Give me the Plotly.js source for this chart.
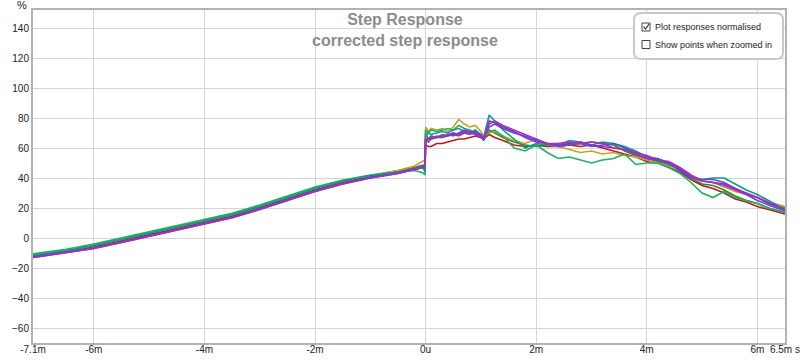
<!DOCTYPE html>
<html>
<head>
<meta charset="utf-8">
<script src="https://cdn.plot.ly/plotly-3.0.1.min.js"></script>
<style>html,body{margin:0;padding:0;background:#fff;}#chart{width:800px;height:361px;}</style>
</head>
<body>
<div id="chart"></div>
<script>
// time in ms
const timePre  = [-7.1, -6.5, -6, -5.5, -5, -4.5, -4, -3.5, -3, -2.5, -2, -1.5, -1, -0.5, -0.2, -0.05, -0.01];
const timePost = [0, 0.05, 0.1, 0.2, 0.3, 0.4, 0.5, 0.6, 0.7, 0.8, 0.9, 1.0, 1.05, 1.15, 1.25, 1.4, 1.6, 1.8, 2.0, 2.2, 2.4, 2.6, 2.8, 3.0, 3.2, 3.4, 3.6, 3.8, 4.0, 4.2, 4.4, 4.6, 4.8, 5.0, 5.2, 5.4, 5.6, 5.8, 6.0, 6.2, 6.4, 6.5];

const redPre  = [-12.5, -9.5, -6, -2, 2, 6, 10, 14.5, 20, 26, 32, 37, 41, 44, 46, 47.5, 48];
const redPost = [62, 61, 61, 63, 63, 64, 65, 66, 66, 67, 68, 67, 66, 69, 67, 65, 62, 61, 62, 61, 61, 62, 61, 62, 60, 58, 56, 54, 51, 50, 47, 44, 39, 35, 33, 30, 26, 24, 21, 19, 17, 16];

const darkGreenPre  = [-11.5, -8.5, -5, -1, 3, 7, 11, 15.5, 21, 27, 33, 38, 41.5, 44.5, 47, 48.5, 46];
const darkGreenPost = [70, 66, 68, 67, 69, 68, 70, 69, 70, 71, 70, 68, 65, 72, 70, 67, 64, 62, 61, 62, 63, 62, 63, 64, 63, 62, 58, 55, 53, 51, 49, 45, 40, 36, 35, 32, 28, 25, 23, 20, 18, 17];

const goldPre  = [-11, -8, -4.5, -0.5, 3.5, 7.5, 11.5, 16, 21.5, 27.5, 33.5, 38.5, 42, 45, 48, 51, 52];
const goldPost = [74, 71, 73, 72, 73, 71, 74, 79, 76, 74, 75, 71, 68, 70, 71, 68, 65, 63, 66, 62, 61, 59, 57, 58, 56, 57, 55, 54, 52, 50, 48, 46, 40, 38, 37, 34, 31, 29, 27, 24, 22, 21];

const brightGreenPre  = [-10.5, -7.5, -4, 0, 4, 8, 12, 16.5, 22, 28, 34, 38.5, 42, 44, 45, 43.5, 42];
const brightGreenPost = [72, 70, 72, 71, 72, 73, 72, 75, 73, 72, 70, 68, 66, 71, 72, 68, 60, 58, 62, 57, 53, 54, 52, 50, 52, 53, 56, 49, 50, 50, 47, 43, 37, 30, 27, 31, 27, 25, 23, 20, 18, 17];

const tealPre  = [-11.5, -8.5, -5, -1, 3, 7, 11, 15.5, 21, 27, 33, 38, 41.5, 44, 46, 47, 44];
const tealPost = [68, 70, 69, 70, 71, 70, 72, 73, 71, 70, 72, 69, 67, 82, 78, 72, 66, 60, 63, 62, 62, 65, 64, 62, 64, 63, 61, 58, 54, 52, 49, 46, 41, 39, 40, 40, 36, 32, 29, 25, 21, 20];

const bluePre  = [-12.5, -9.5, -6.5, -2.5, 1.5, 5.5, 9.5, 14, 19.5, 25.5, 31.5, 36.5, 40.5, 43.5, 46, 47.5, 48];
const bluePost = [64, 66, 66, 67, 67, 68, 69, 68, 70, 69, 71, 68, 66, 74, 76, 73, 70, 68, 65, 63, 61, 62, 63, 61, 62, 63, 60, 57, 54, 53, 50, 45, 40, 39, 39, 37, 33, 29, 25, 22, 19, 18];

const violetPre  = [-13, -10, -7, -3, 1, 5, 9, 13.5, 19, 25, 31, 36, 40, 43, 45.5, 47, 49];
const violetPost = [65, 66, 67, 67, 68, 69, 68, 70, 72, 71, 70, 69, 66, 78, 77, 74, 71, 67, 64, 63, 62, 63, 64, 62, 61, 60, 59, 56, 53, 52, 50, 46, 41, 38, 37, 36, 33, 30, 27, 23, 20, 19];

const purplePre  = [-13, -10, -7, -3, 1, 5, 9, 13.5, 19, 25, 31, 36, 40, 43, 45.5, 47, 50];
const purplePost = [66, 64, 66, 68, 67, 69, 70, 69, 71, 70, 69, 67, 66, 76, 78, 75, 72, 69, 66, 63, 63, 64, 63, 64, 63, 60, 59, 57, 55, 52, 51, 47, 42, 38, 37, 35, 32, 29, 27, 24, 21, 19];

const xTickVals = [-7.1, -6, -4, -2, 0, 2, 4, 6, 6.499];
const xTickText = ['-7.1m', '-6m', '-4m', '-2m', '0u', '2m', '4m', '6m', '6.5m s'];

const series = [
  {pre: redPre, post: redPost, color: '#c01a14'},
  {pre: darkGreenPre, post: darkGreenPost, color: '#2f8a2c'},
  {pre: goldPre, post: goldPost, color: '#c9a027'},
  {pre: brightGreenPre, post: brightGreenPost, color: '#1fb060'},
  {pre: tealPre, post: tealPost, color: '#16968e'},
  {pre: bluePre, post: bluePost, color: '#5552c8'},
  {pre: violetPre, post: violetPost, color: '#8a2ce0'},
  {pre: purplePre, post: purplePost, color: '#a032b8'}
];

const timeAll = timePre.concat(timePost);
const traces = series.map(s => ({
  type: 'scatter', mode: 'lines',
  x: timeAll, y: s.pre.concat(s.post),
  line: {color: s.color, width: 1.6},
  hoverinfo: 'skip'
}));

// pixel helpers for decorations
const L = 33, R = 785, T = 10, B = 343;
const px = x => (x - L) / (R - L);
const py = y => (B - y) / (B - T);
function rr(x0, y0, x1, y1, r) {
  return 'M' + px(x0 + r) + ',' + py(y0) +
    ' L' + px(x1 - r) + ',' + py(y0) +
    ' Q' + px(x1) + ',' + py(y0) + ' ' + px(x1) + ',' + py(y0 + r) +
    ' L' + px(x1) + ',' + py(y1 - r) +
    ' Q' + px(x1) + ',' + py(y1) + ' ' + px(x1 - r) + ',' + py(y1) +
    ' L' + px(x0 + r) + ',' + py(y1) +
    ' Q' + px(x0) + ',' + py(y1) + ' ' + px(x0) + ',' + py(y1 - r) +
    ' L' + px(x0) + ',' + py(y0 + r) +
    ' Q' + px(x0) + ',' + py(y0) + ' ' + px(x0 + r) + ',' + py(y0) + ' Z';
}

const font = '"Liberation Sans", Arial, sans-serif';

const layout = {
  width: 800, height: 361,
  margin: {l: 33, r: 15, t: 10, b: 18, pad: 0},
  paper_bgcolor: '#ffffff', plot_bgcolor: '#ffffff',
  showlegend: false,
  font: {family: font, size: 10, color: '#222'},
  xaxis: {
    range: [-7.1, 6.5], tickmode: 'array', tickvals: xTickVals, ticktext: xTickText,
    showgrid: true, gridcolor: '#d5d5d5', gridwidth: 1, zeroline: false,
    showline: true, mirror: true, linecolor: '#b2b2b2', linewidth: 2,
    ticks: '', ticklabelstandoff: -4, automargin: false,
    tickfont: {size: 10, color: '#222', family: font}, fixedrange: true
  },
  yaxis: {
    range: [-70, 152], tickmode: 'linear', tick0: 0, dtick: 20,
    showgrid: true, gridcolor: '#d5d5d5', gridwidth: 1, zeroline: false,
    showline: true, mirror: true, linecolor: '#b2b2b2', linewidth: 2,
    ticks: '', automargin: false,
    tickfont: {size: 10, color: '#222', family: font}, fixedrange: true
  },
  shapes: [
    {type: 'path', xref: 'paper', yref: 'paper', path: rr(634, 13, 783, 59, 7),
     fillcolor: '#ffffff', line: {color: '#c8c8c8', width: 2}, layer: 'above'},
    {type: 'rect', xref: 'paper', yref: 'paper', x0: px(642), x1: px(650), y0: py(23), y1: py(31),
     fillcolor: '#ffffff', line: {color: '#444', width: 1}, layer: 'above'},
    {type: 'path', xref: 'paper', yref: 'paper',
     path: 'M' + px(643.5) + ',' + py(26.5) + ' L' + px(645.5) + ',' + py(29) + ' L' + px(649) + ',' + py(24),
     line: {color: '#333', width: 1.2}, layer: 'above'},
    {type: 'rect', xref: 'paper', yref: 'paper', x0: px(642), x1: px(650), y0: py(40.5), y1: py(48.5),
     fillcolor: '#ffffff', line: {color: '#444', width: 1}, layer: 'above'}
  ],
  annotations: [
    {xref: 'paper', yref: 'paper', x: px(405), y: py(30), xanchor: 'center', yanchor: 'middle',
     text: 'Step Response<br>corrected step response', showarrow: false,
     font: {family: font, size: 16, color: '#8c8c8c', weight: 'bold'}},
    {xref: 'paper', yref: 'paper', x: px(22), y: py(5), xanchor: 'center', yanchor: 'middle',
     text: '%', showarrow: false, font: {family: font, size: 11, color: '#222'}},
    {xref: 'paper', yref: 'paper', x: px(652.5), y: py(27), xanchor: 'left', yanchor: 'middle',
     text: 'Plot responses normalised', showarrow: false, font: {family: font, size: 9, color: '#222'}},
    {xref: 'paper', yref: 'paper', x: px(652.5), y: py(44.5), xanchor: 'left', yanchor: 'middle',
     text: 'Show points when zoomed in', showarrow: false, font: {family: font, size: 9, color: '#222'}}
  ]
};

Plotly.newPlot('chart', traces, layout, {staticPlot: true, displayModeBar: false});
</script>
</body>
</html>
